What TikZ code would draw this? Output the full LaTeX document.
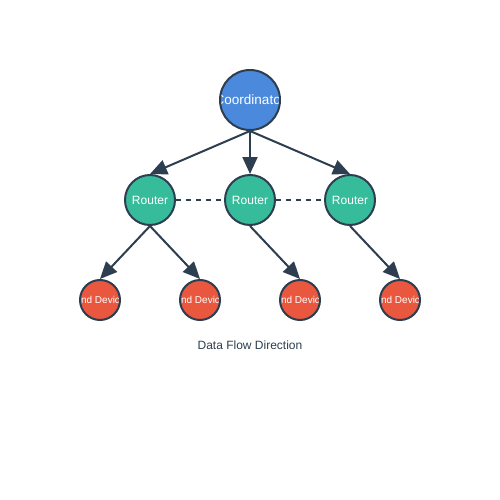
\documentclass[tikz,border=0pt]{standalone}
\usepackage{fontspec}
\setmainfont{Liberation Sans}
\usepackage{tikz}
\usetikzlibrary{arrows.meta}
\usetikzlibrary{positioning}
\definecolor{coord-blue}{HTML}{4A89DC}
\definecolor{router-green}{HTML}{37BC9B}
\definecolor{device-red}{HTML}{E9573F}
\definecolor{edge-dark}{HTML}{2C3E50}
\tikzstyle{netnode}=[circle, draw=edge-dark, line width=2pt, inner sep=0pt]
\tikzset{
	inlabel/.style 2 args={path picture={\node[text=white, font=\fontsize{#1}{#1}\selectfont] at (path picture bounding box.center) {#2};}},
	coordnode/.style={netnode, fill=coord-blue, minimum size=60pt, inlabel={13.5pt}{#1}},
	routernode/.style={netnode, fill=router-green, minimum size=50pt, inlabel={12pt}{#1}},
	devicenode/.style={netnode, fill=device-red, minimum size=40pt, inlabel={10pt}{#1}}
}
\tikzstyle{flow}=[draw=edge-dark, line width=2pt, -{Triangle[length=17pt,width=15pt]}]
\tikzstyle{mesh}=[draw=edge-dark, line width=2pt, dash pattern=on 5pt off 5pt]
\tikzstyle{caption}=[text=edge-dark, font=\fontsize{12pt}{14pt}\selectfont]

\begin{document}
\begin{tikzpicture}[x=1pt, y=-1pt]
	\useasboundingbox (0,0) rectangle (500,500);
	\node[coordnode=Coordinator] (coord) at (250,100) {};
	\node[routernode=Router] (r1) at (150,200) {};
	\node[routernode=Router] (r2) at (250,200) {};
	\node[routernode=Router] (r3) at (350,200) {};
	\node[devicenode=End Device] (d1) at (100,300) {};
	\node[devicenode=End Device] (d2) at (200,300) {};
	\node[devicenode=End Device] (d3) at (300,300) {};
	\node[devicenode=End Device] (d4) at (400,300) {};
	\draw[mesh] (r1.east) -- (r2.west);
	\draw[mesh] (r2.east) -- (r3.west);
	\draw[flow] (coord.south) -- (r1.north);
	\draw[flow] (coord.south) -- (r2.north);
	\draw[flow] (coord.south) -- (r3.north);
	\draw[flow] (r1.south) -- (d1.north);
	\draw[flow] (r1.south) -- (d2.north);
	\draw[flow] (r2.south) -- (d3.north);
	\draw[flow] (r3.south) -- (d4.north);
	\node[caption] (flowlabel) at (250,345) {Data Flow Direction};
\end{tikzpicture}
\end{document}
